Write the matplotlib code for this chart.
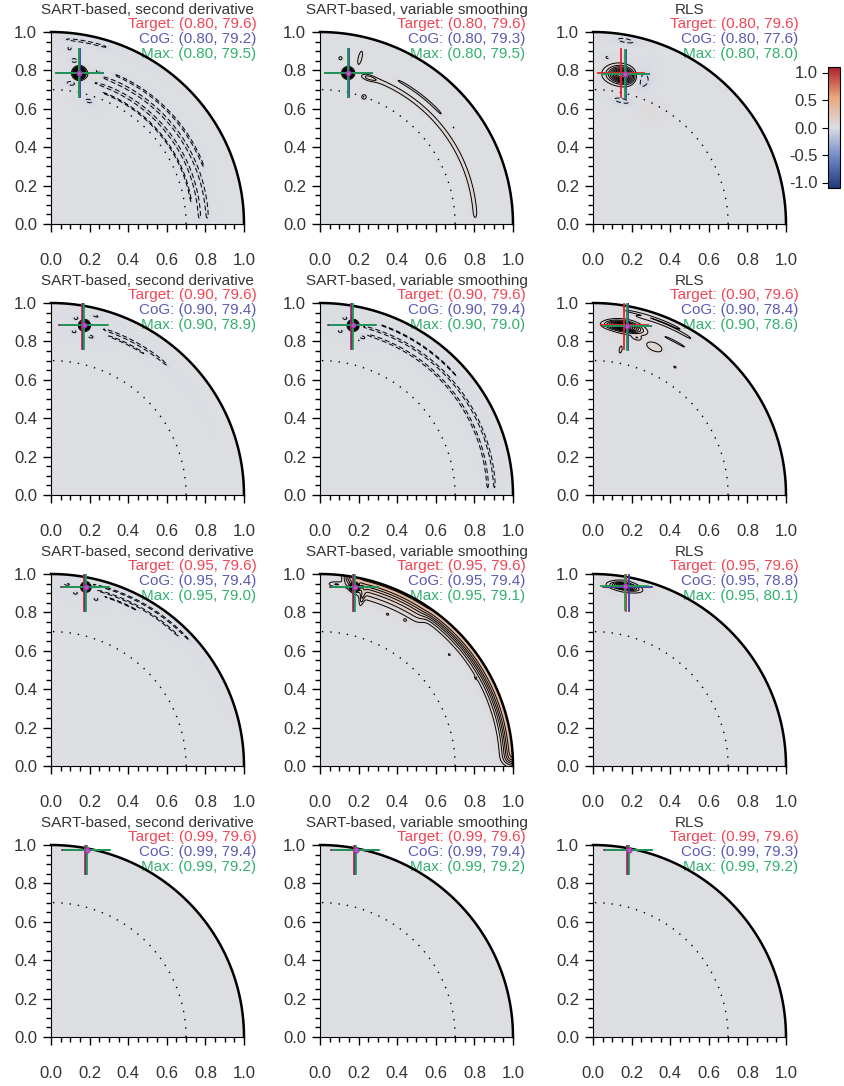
import numpy as np
import matplotlib
matplotlib.use('Agg')
import matplotlib.pyplot as plt
from matplotlib.colors import LinearSegmentedColormap
from matplotlib.ticker import MultipleLocator

plt.rcParams['font.family'] = ['Liberation Sans', 'DejaVu Sans']
plt.rcParams['axes.unicode_minus'] = False

# ---- data ----
titles = ["SART-based, second derivative", "SART-based, variable smoothing", "RLS"]
target_r = [0.80, 0.90, 0.95, 0.99]
target_theta = 79.6

# (r, theta in degrees) per row, per column
cog = [[(0.80, 79.2), (0.80, 79.3), (0.80, 77.6)],
       [(0.90, 79.4), (0.90, 79.4), (0.90, 78.4)],
       [(0.95, 79.4), (0.95, 79.4), (0.95, 78.8)],
       [(0.99, 79.4), (0.99, 79.4), (0.99, 79.3)]]
maxpos = [[(0.80, 79.5), (0.80, 79.5), (0.80, 78.0)],
          [(0.90, 78.9), (0.90, 79.0), (0.90, 78.6)],
          [(0.95, 79.0), (0.95, 79.1), (0.95, 80.1)],
          [(0.99, 79.2), (0.99, 79.2), (0.99, 79.2)]]

# reconstructed image features: blobs (r, theta, amp, sig_r, sig_t)
blobs = [
    [[(0.80, 79.5, 1.0, 0.016, 0.016), (0.86, 82, -0.08, 0.010, 0.015), (0.74, 82, -0.08, 0.010, 0.020),
      (0.83, 73, -0.08, 0.010, 0.020), (0.67, 73, -0.07, 0.010, 0.020), (0.92, 84, -0.07, 0.010, 0.010),
      (0.80, 74, 0.04, 0.030, 0.050)],
     [(0.80, 79.5, 1.0, 0.014, 0.014), (0.89, 76.5, 0.10, 0.030, 0.008), (0.80, 72, 0.07, 0.012, 0.030),
      (0.70, 71, 0.08, 0.012, 0.012), (0.87, 83, 0.07, 0.010, 0.010), (0.855, 36, 0.06, 0.004, 0.004)],
     [(0.79, 79.0, 0.45, 0.025, 0.042), (0.79, 71.5, -0.10, 0.040, 0.035), (0.66, 77, -0.08, 0.012, 0.040),
      (0.97, 80, -0.08, 0.010, 0.040), (0.87, 85, -0.07, 0.010, 0.015), (0.79, 80, 0.06, 0.050, 0.080),
      (0.67, 63, 0.04, 0.050, 0.050)]],
    [[(0.90, 78.9, 1.0, 0.013, 0.013), (0.93, 82, -0.07, 0.008, 0.012), (0.86, 82, -0.07, 0.008, 0.012),
      (0.85, 76, -0.07, 0.008, 0.015), (0.96, 76, -0.06, 0.006, 0.020)],
     [(0.90, 79.0, 1.0, 0.013, 0.013), (0.93, 82, -0.07, 0.008, 0.012), (0.86, 83, -0.07, 0.008, 0.012),
      (0.85, 75, -0.07, 0.008, 0.015), (0.83, 76, 0.06, 0.004, 0.004)],
     [(0.893, 79.8, 0.45, 0.015, 0.055), (0.834, 67.4, 0.09, 0.018, 0.035), (0.85, 74.5, 0.07, 0.008, 0.015),
      (0.79, 57.5, 0.07, 0.005, 0.008), (0.77, 79.3, 0.07, 0.020, 0.008), (0.89, 78, 0.05, 0.050, 0.080)]],
    [[(0.95, 79.0, 0.8, 0.012, 0.012), (0.91, 82, -0.07, 0.008, 0.012), (0.90, 75, -0.07, 0.008, 0.012),
      (0.95, 85, -0.07, 0.006, 0.015)],
     [(0.95, 79.1, 0.8, 0.012, 0.012), (0.95, 85, 0.10, 0.010, 0.030), (0.90, 76, 0.10, 0.030, 0.008),
      (0.864, 66.1, 0.07, 0.005, 0.006), (0.878, 59.9, 0.07, 0.005, 0.006), (0.886, 40.9, 0.07, 0.005, 0.006),
      (0.93, 29.6, 0.07, 0.004, 0.005)],
     [(0.95, 80.1, 0.35, 0.010, 0.040), (0.95, 80.0, 0.08, 0.030, 0.070)]],
    [[(0.99, 79.2, 0.04, 0.020, 0.020)],
     [(0.99, 79.2, 0.04, 0.020, 0.020)],
     [(0.99, 79.2, 0.04, 0.020, 0.020)]],
]

# arcs (r, width, amp, theta_from, theta_to)
rings = [
    [[(0.735, 0.004, -0.065, 8, 70), (0.770, 0.006, -0.09, 2, 74), (0.810, 0.006, -0.09, 2, 72),
      (0.845, 0.005, -0.07, 20, 68), (0.965, 0.006, -0.07, 72, 86)],
     [(0.805, 0.010, 0.08, 2, 73), (0.85, 0.005, 0.08, 42, 62)],
     []],
    [[(0.905, 0.005, -0.08, 48, 73), (0.88, 0.004, -0.07, 56, 71)],
     [(0.87, 0.005, -0.08, 2, 74), (0.905, 0.005, -0.08, 2, 76), (0.94, 0.004, -0.06, 40, 72)],
     [(0.96, 0.005, 0.09, 58, 76), (0.975, 0.004, 0.08, 62, 80), (0.905, 0.004, 0.08, 58, 66)]],
    [[(0.97, 0.004, -0.07, 42, 78), (0.945, 0.004, -0.07, 45, 76), (0.925, 0.004, -0.06, 60, 74)],
     [(1.0, 0.035, 0.35, 1, 82), (0.93, 0.03, 0.08, 55, 78)],
     []],
    [[], [], []],
]

# ---- layout (pixels, 100 dpi) ----
W, H = 845, 1086
col_left = [51, 320, 593]
row_top = [32, 303, 574, 845]
aw, ah = 193, 192

cmap = LinearSegmentedColormap.from_list(
    'bgr', ['#233a7d', '#6d86c4', '#dcdee3', '#eba67d', '#ac1f2c'])
levels = [-0.3, -0.25, -0.2, -0.15, -0.1, -0.05] + list(np.arange(0.05, 1.01, 0.05))

rr = np.linspace(0, 1, 420)
tt = np.radians(np.linspace(0, 90, 360))
R, T = np.meshgrid(rr, tt)
X = R * np.cos(T)
Y = R * np.sin(T)


def makeField(blist, rlist):
    F = np.zeros_like(R)
    for r0, t0, amp, sr, st in blist:
        dr = R - r0
        dt = R * (T - np.radians(t0))
        F += amp * np.exp(-0.5 * (dr / sr) ** 2 - 0.5 * (dt / st) ** 2)
    for r0, w, amp, tlo, thi in rlist:
        win = 0.5 * (np.tanh((T - np.radians(tlo)) / 0.03) - np.tanh((T - np.radians(thi)) / 0.03))
        F += amp * np.exp(-0.5 * ((R - r0) / w) ** 2) * win
    return F


def toXY(p):
    r, th = p
    return r * np.cos(np.radians(th)), r * np.sin(np.radians(th))


def cross(ax, p, color):
    x, y = toXY(p)
    ax.plot([x - 0.12, x + 0.12], [y, y], color=color, lw=1.3, zorder=5)
    ax.plot([x, x], [y - 0.125, y + 0.125], color=color, lw=1.3, zorder=5)


fig = plt.figure(figsize=(W / 100, H / 100), dpi=100)
txtc = '#333333'
mesh = None
for i in range(4):
    for j in range(3):
        ax = fig.add_axes([col_left[j] / W, 1 - (row_top[i] + ah) / H, aw / W, ah / H])
        F = makeField(blobs[i][j], rings[i][j])
        mesh = ax.pcolormesh(X, Y, F, cmap=cmap, vmin=-1.1, vmax=1.1, shading='gouraud', rasterized=True)
        ax.contour(X, Y, F, levels=levels, colors='k', linewidths=0.7,
                   negative_linestyles=(0, (5, 3)))

        a = np.linspace(0, np.pi / 2, 300)
        ax.plot(0.7 * np.cos(a), 0.7 * np.sin(a), color='k', lw=1.0, ls=(0, (1, 5)))
        ax.plot(np.cos(a), np.sin(a), color='k', lw=1.8, clip_on=False, zorder=4)

        tgt = (target_r[i], target_theta)
        cross(ax, tgt, '#e8202a')
        cross(ax, cog[i][j], '#3440a8')
        cross(ax, maxpos[i][j], '#1f9c52')
        mx, my = toXY(maxpos[i][j])
        ax.plot(mx, my, 'o', ms=3.5, mfc='#c050c8', mec='#9a3aa8', mew=0.8, zorder=6)

        ax.set_xlim(0, 1)
        ax.set_ylim(0, 1)
        for s in ['top', 'right']:
            ax.spines[s].set_visible(False)
        ax.set_xticks(np.arange(0, 1.01, 0.2))
        ax.set_yticks(np.arange(0, 1.01, 0.2))
        ax.xaxis.set_minor_locator(MultipleLocator(0.05))
        ax.yaxis.set_minor_locator(MultipleLocator(0.05))
        ax.xaxis.set_major_formatter('{x:.1f}')
        ax.yaxis.set_major_formatter('{x:.1f}')
        ax.tick_params(which='major', direction='out', length=6, width=1, labelsize=12, labelcolor=txtc)
        ax.tick_params(which='minor', direction='out', length=3.5, width=1)
        ax.tick_params(axis='x', which='major', pad=15)
        ax.tick_params(axis='y', which='major', pad=4)

        ax.text(0.5, 1.115, titles[j], transform=ax.transAxes, ha='center', va='center',
                fontsize=11, color=txtc)
        ax.text(1.065, 1.04, "Target: (%.2f, %.1f)" % tgt, transform=ax.transAxes,
                ha='right', va='center', fontsize=11, color='#f04656')
        ax.text(1.065, 0.963, "CoG: (%.2f, %.1f)" % cog[i][j], transform=ax.transAxes,
                ha='right', va='center', fontsize=11, color='#5a5cb4')
        ax.text(1.065, 0.888, "Max: (%.2f, %.1f)" % maxpos[i][j], transform=ax.transAxes,
                ha='right', va='center', fontsize=11, color='#33b070')

cax = fig.add_axes([828 / W, 1 - 188 / H, 12 / W, 121 / H])
cb = fig.colorbar(mesh, cax=cax, ticks=[-1, -0.5, 0, 0.5, 1])
cb.ax.yaxis.set_ticks_position('left')
cb.ax.yaxis.set_label_position('left')
cb.ax.yaxis.set_major_formatter('{x:.1f}')
cb.ax.tick_params(labelsize=12, labelcolor=txtc, length=4)
cb.outline.set_linewidth(0.8)

plt.savefig('out.png', dpi=100)
